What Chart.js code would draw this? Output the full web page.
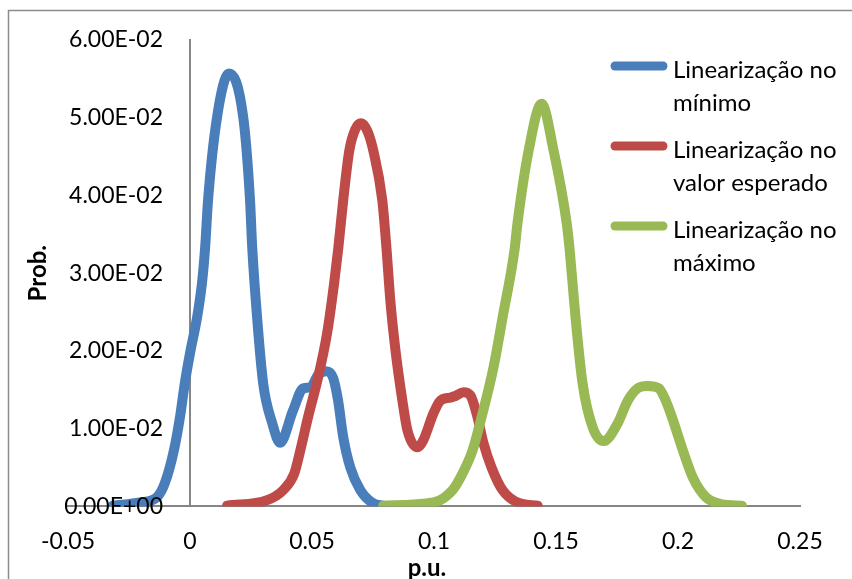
<!DOCTYPE html>
<html>
<head>
<meta charset="utf-8">
<script src="https://cdn.jsdelivr.net/npm/chart.js@4.4.1/dist/chart.umd.min.js"></script>
<style>
  html, body { margin: 0; padding: 0; background: #fff; }
</style>
</head>
<body>
<canvas id="grafico" width="852" height="579"></canvas>
<script>
// rótulos dos eixos
const xTickLabels = ['-0.05', '0', '0.05', '0.1', '0.15', '0.2', '0.25'];
const yTickLabels = ['0.00E+00', '1.00E-02', '2.00E-02', '3.00E-02', '4.00E-02', '5.00E-02', '6.00E-02'];
const xTitle = 'p.u.';
const yTitle = 'Prob.';

// nomes das séries (quebra de linha como na legenda original)
const legendLines = [
  ['Linearização no', 'mínimo'],
  ['Linearização no', 'valor esperado'],
  ['Linearização no', 'máximo']
];

// Linearização no mínimo
const minX = [-0.0316, -0.0205, -0.0135, -0.0103, -0.0066, -0.0041, -0.0021, 0, 0.0029, 0.0049, 0.0062, 0.0074, 0.0111,
  0.016, 0.0218, 0.0246, 0.0255, 0.0275, 0.03, 0.0337, 0.0369, 0.0423, 0.0464, 0.0493, 0.0525, 0.0558, 0.0587,
  0.0607, 0.0628, 0.0657, 0.0698, 0.0751, 0.0792];
const minY = [0.0001, 0.0005, 0.0012, 0.003, 0.0072, 0.0115, 0.0159, 0.0197, 0.0243, 0.0287, 0.0333, 0.0394, 0.0501,
  0.0557, 0.0501, 0.0394, 0.0333, 0.0243, 0.0158, 0.0107, 0.0082, 0.0124, 0.0152, 0.0153, 0.0169, 0.0174, 0.0165,
  0.0136, 0.0089, 0.005, 0.0021, 0.0004, 0.0001];

// Linearização no valor esperado
const espX = [0.0152, 0.0316, 0.0382, 0.0427, 0.0452, 0.0484, 0.0525, 0.0562, 0.0591, 0.0608, 0.0628, 0.0653, 0.0677,
  0.0702, 0.0727, 0.0751, 0.0788, 0.0805, 0.0821, 0.0842, 0.087, 0.0891, 0.0932, 0.0956, 0.0998, 0.1026, 0.1067,
  0.1088, 0.1121, 0.1149, 0.1178, 0.1203, 0.1236, 0.1281, 0.1351, 0.1425];
const espY = [0.0001, 0.0008, 0.0021, 0.0042, 0.0072, 0.0115, 0.0166, 0.0223, 0.0288, 0.0333, 0.0394, 0.0458, 0.0485,
  0.0493, 0.0483, 0.0458, 0.0394, 0.0333, 0.0265, 0.0201, 0.0137, 0.0098, 0.0076, 0.0085, 0.012, 0.0136, 0.014,
  0.0142, 0.0147, 0.0143, 0.0115, 0.0081, 0.005, 0.0021, 0.0004, 0.0001];

// Linearização no máximo
const maxX = [0.0792, 0.0998, 0.1076, 0.1108, 0.1158, 0.1195, 0.1244, 0.1281, 0.133, 0.1342, 0.1388, 0.1441, 0.149,
  0.1544, 0.1556, 0.158, 0.1609, 0.165, 0.1695, 0.1753, 0.1794, 0.1835, 0.1876, 0.1921, 0.195, 0.1975, 0.202,
  0.2061, 0.2114, 0.2176, 0.2262];
const maxY = [0.0001, 0.0005, 0.0021, 0.0037, 0.0072, 0.0115, 0.0179, 0.0243, 0.033, 0.0364, 0.0458, 0.0518, 0.0458,
  0.0364, 0.033, 0.0243, 0.0158, 0.0102, 0.0084, 0.0107, 0.0136, 0.0152, 0.0155, 0.0152, 0.0136, 0.0115, 0.0072,
  0.0037, 0.0012, 0.0003, 0.0001];

const cores = ['#4a7ebb', '#be4b48', '#98b954'];
const fonte = 'Lato, "Open Sans", sans-serif';

function pontos(xs, ys) {
  return xs.map((x, i) => ({ x: x, y: ys[i] }));
}

function serie(xs, ys, i) {
  return {
    label: legendLines[i].join(' '),
    data: pontos(xs, ys),
    borderColor: cores[i],
    backgroundColor: cores[i],
    borderWidth: 10,
    borderCapStyle: 'round',
    borderJoinStyle: 'round',
    pointRadius: 0,
    fill: false,
    cubicInterpolationMode: 'monotone',
    order: 3 - i   // verde por cima, azul por baixo
  };
}

// moldura, rótulos do eixo y (o eixo fica em x=0), títulos dos eixos e legenda
const extras = {
  id: 'extras',
  beforeDraw(chart) {
    const c = chart.ctx;
    c.save();
    c.strokeStyle = '#8c8c8c';
    c.lineWidth = 1.5;
    c.strokeRect(8.5, 10.5, 900, 650);
    c.restore();
  },
  afterDraw(chart) {
    const c = chart.ctx;
    const area = chart.chartArea;
    const ys = chart.scales.y;
    const xs = chart.scales.x;

    c.save();
    c.fillStyle = '#000';
    c.font = '23px ' + fonte;
    c.textAlign = 'right';
    c.textBaseline = 'middle';
    ys.ticks.forEach((t, i) => c.fillText(yTickLabels[i], xs.getPixelForValue(0) - 27, ys.getPixelForValue(t.value)));

    c.font = 'bold 24px ' + fonte;
    c.textAlign = 'center';
    c.fillText(xTitle, 427, 568);
    c.translate(38, (area.top + area.bottom) / 2);
    c.rotate(-Math.PI / 2);
    c.fillText(yTitle, 0, 0);
    c.restore();

    c.save();
    c.font = '24px ' + fonte;
    c.textAlign = 'left';
    c.textBaseline = 'middle';
    legendLines.forEach((linhas, i) => {
      const y = 66 + i * 80;
      c.strokeStyle = cores[i];
      c.lineWidth = 9;
      c.lineCap = 'round';
      c.beginPath();
      c.moveTo(615, y);
      c.lineTo(663, y);
      c.stroke();
      c.fillStyle = '#000';
      linhas.forEach((t, j) => c.fillText(t, 673, y + 4 + j * 33));
    });
    c.restore();
  }
};

new Chart(document.getElementById('grafico'), {
  type: 'line',
  data: {
    datasets: [
      serie(minX, minY, 0),
      serie(espX, espY, 1),
      serie(maxX, maxY, 2)
    ]
  },
  options: {
    responsive: false,
    animation: false,
    layout: { padding: { left: 68, right: 52, top: 40, bottom: 3 } },
    plugins: {
      legend: { display: false },
      tooltip: { enabled: false }
    },
    scales: {
      x: {
        type: 'linear',
        min: -0.05,
        max: 0.25,
        grid: { display: false, drawTicks: false },
        border: { color: '#868686', width: 2 },
        ticks: {
          stepSize: 0.05,
          padding: 21,
          color: '#000',
          font: { family: fonte, size: 23 },
          callback: (v, i) => xTickLabels[i]
        }
      },
      y: {
        type: 'linear',
        position: { x: 0 },
        min: 0,
        max: 0.06,
        grid: { display: false, drawTicks: false },
        border: { color: '#868686', width: 2 },
        ticks: { stepSize: 0.01, display: false }
      }
    }
  },
  plugins: [extras]
});
</script>
</body>
</html>
